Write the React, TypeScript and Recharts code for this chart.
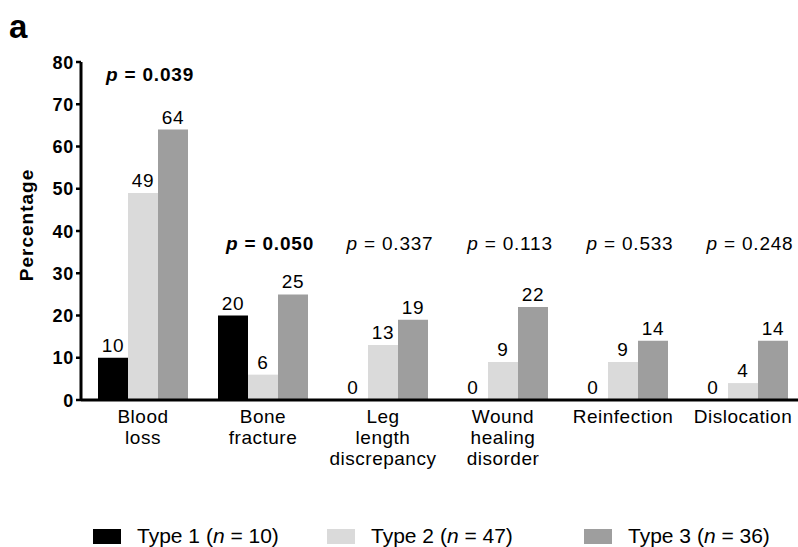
import React from 'react';
import { BarChart, Bar, XAxis, YAxis, LabelList, ReferenceDot, Legend } from 'recharts';

const categories = [
  'Blood\nloss',
  'Bone\nfracture',
  'Leg\nlength\ndiscrepancy',
  'Wound\nhealing\ndisorder',
  'Reinfection',
  'Dislocation',
];
const type1 = [10, 20, 0, 0, 0, 0];
const type2 = [49, 6, 13, 9, 9, 4];
const type3 = [64, 25, 19, 22, 14, 14];
const pValues = ['0.039', '0.050', '0.337', '0.113', '0.533', '0.248'];
const pSignificant = [true, true, false, false, false, false];
const pLabelLevel = [77, 37, 37, 37, 37, 37];
const yTicks = [0, 10, 20, 30, 40, 50, 60, 70, 80];
const seriesNames = ['Type 1', 'Type 2', 'Type 3'];
const seriesN = [10, 47, 36];
const seriesKeys = ['type1', 'type2', 'type3'];
const seriesColors = ['#000000', '#dadada', '#9e9e9e'];

const data = categories.map((c, i) => ({
  category: c,
  type1: type1[i],
  type2: type2[i],
  type3: type3[i],
}));

const FONT = "'Liberation Sans', Arial, sans-serif";

const CategoryTick = (props: any) => {
  const { x, y, payload } = props;
  const lines = String(payload.value).split('\n');
  return (
    <text x={x} y={y + 23} textAnchor="middle" fontSize={19} letterSpacing={0.5} fontFamily={FONT} fill="#000">
      {lines.map((l, i) => (
        <tspan key={i} x={x} dy={i === 0 ? 0 : 21}>{l}</tspan>
      ))}
    </text>
  );
};

const YTick = (props: any) => {
  const { x, y, payload } = props;
  return (
    <text x={x} y={y} dy={6.5} textAnchor="end" fontSize={18} fontWeight={700} letterSpacing={0.8} fontFamily={FONT} fill="#000">
      {payload.value}
    </text>
  );
};

const valueLabel = (props: any) => {
  const { x, y, width, height, value } = props;
  const top = Math.min(y, y + height);
  return (
    <text x={x + width / 2} y={top - 6} textAnchor="middle" fontSize={19} letterSpacing={0.8} fontFamily={FONT} fill="#000">
      {String(value)}
    </text>
  );
};

const LegendContent = () => {
  const lefts = [93, 327, 584];
  return (
    <div style={{ position: 'relative', width: 798, height: 30, fontFamily: FONT }}>
      {seriesNames.map((name, i) => (
        <div key={name} style={{ position: 'absolute', left: lefts[i], top: 0, display: 'flex', alignItems: 'center', height: 30 }}>
          <div style={{ width: 28, height: 15, background: seriesColors[i], marginRight: 16 }} />
          <span style={{ fontSize: 21, color: '#000', whiteSpace: 'nowrap' }}>
            {name} (<i>n</i> = {seriesN[i]})
          </span>
        </div>
      ))}
    </div>
  );
};

export default function App() {
  return (
    <div style={{ position: 'absolute', left: 0, top: 0, width: 798, height: 547, overflow: 'hidden', background: '#fff' }}>
      <svg style={{ position: 'absolute', left: 0, top: 0, zIndex: 2, pointerEvents: 'none' }} width={60} height={50}>
        <text x={9} y={38} fontSize={33} fontWeight={700} fontFamily={FONT} fill="#000">a</text>
      </svg>
      <BarChart
        width={803}
        height={547}
        data={data}
        margin={{ top: 62, right: 0, left: 0, bottom: 67 }}
        barCategoryGap={15}
        barGap={0}
      >
        <XAxis
          dataKey="category"
          height={80}
          interval={0}
          padding={{ left: 2, right: 0 }}
          axisLine={{ stroke: '#000', strokeWidth: 3 }}
          tickLine={false}
          tickSize={0}
          tickMargin={0}
          tick={<CategoryTick />}
        />
        <YAxis
          width={81}
          domain={[0, 80]}
          ticks={yTicks}
          interval={0}
          axisLine={{ stroke: '#000', strokeWidth: 3 }}
          tickLine={{ stroke: '#000', strokeWidth: 2.5 }}
          tickSize={5}
          tickMargin={2}
          tick={<YTick />}
          label={{
            content: (p: any) => {
              const vb = p.viewBox || { x: 0, y: 62, width: 81, height: 338 };
              const cx = 33;
              const cy = vb.y + vb.height / 2 - 6;
              return (
                <text x={cx} y={cy} transform={`rotate(-90 ${cx} ${cy})`} textAnchor="middle" fontSize={19} fontWeight={700} letterSpacing={1} fontFamily={FONT} fill="#000">
                  Percentage
                </text>
              );
            },
          }}
        />
        {seriesKeys.map((k, i) => (
          <Bar key={k} dataKey={k} name={seriesNames[i]} fill={seriesColors[i]} minPointSize={0.01} isAnimationActive={false}>
            <LabelList dataKey={k} content={valueLabel} />
          </Bar>
        ))}
        {categories.map((c, i) => (
          <ReferenceDot
            key={c}
            x={c}
            y={pLabelLevel[i]}
            r={0}
            fill="none"
            stroke="none"
            ifOverflow="visible"
            label={{
              content: (p: any) => {
                const vb = p.viewBox || { x: 0, y: 0 };
                const cx = vb.x + (vb.width || 0) / 2 + 7;
                const cy = vb.y + (vb.height || 0) / 2;
                return (
                  <text x={cx} y={cy} dy={6.5} textAnchor="middle" fontSize={19} fontWeight={pSignificant[i] ? 700 : 400} letterSpacing={0.8} fontFamily={FONT} fill="#000">
                    <tspan fontStyle="italic">p</tspan> = {pValues[i]}
                  </text>
                );
              },
            }}
          />
        ))}
        <Legend
          layout="horizontal"
          verticalAlign="middle"
          align="center"
          wrapperStyle={{ left: 0, top: 521, width: 798, height: 30 }}
          content={<LegendContent />}
        />
      </BarChart>
    </div>
  );
}
